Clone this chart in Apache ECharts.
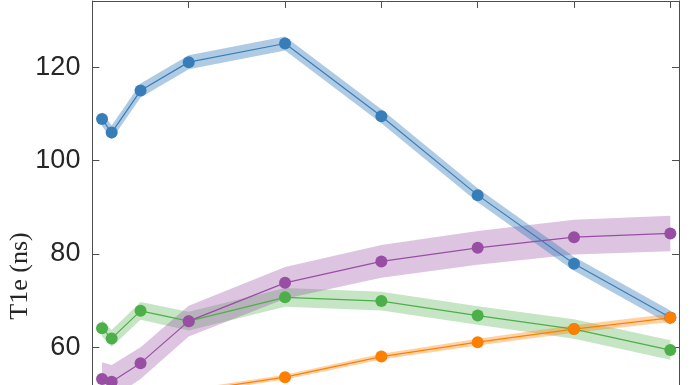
<!DOCTYPE html>
<html><head><meta charset="utf-8">
<style>html,body{margin:0;padding:0;background:#fff}#c{width:696px;height:385px}</style>
<script src="https://cdn.jsdelivr.net/npm/echarts@6/dist/echarts.min.js"></script>
</head><body><div id="c"></div>
<script>
const temperatures = [10, 20, 50, 100, 200, 300, 400, 500, 600];
const blueT1e   = [108.9, 106.0, 115.0, 121.1, 125.1, 109.5, 92.6, 77.9, 66.4];
const blueErr   = [1.5, 1.5, 1.5, 1.5, 1.5, 1.5, 1.5, 1.5, 1.5];
const greenT1e  = [64.1, 61.9, 67.8, 65.6, 70.7, 69.9, 66.8, 63.9, 59.4];
const greenErr  = [1.8, 1.8, 1.9, 2.0, 2.0, 2.0, 2.0, 2.1, 2.1];
const purpleT1e = [53.2, 52.6, 56.6, 65.6, 73.8, 78.4, 81.3, 83.6, 84.4];
const purpleErr = [3.6, 3.6, 3.4, 3.3, 3.4, 3.5, 3.6, 3.7, 3.8];
const orangeT1e = [44.0, 45.5, 48.0, 50.5, 53.6, 58.0, 61.1, 63.9, 66.3];
const orangeErr = [0.5, 0.5, 0.5, 0.5, 0.5, 0.6, 0.7, 0.8, 0.9];
const yTickLabels = [60, 80, 100, 120];
const yAxisTitle = 'T1e (ns)';

const AX = '#4d4d4d';
const chart = echarts.init(document.getElementById('c'), null, {renderer: 'canvas'});

function band(vals, errs, fill) {
  return {
    type: 'custom', xAxisIndex: 0, yAxisIndex: 0, z: 1, silent: true, clip: false,
    animation: false,
    data: temperatures.map((x, i) => [x, vals[i]]),
    encode: {x: 0, y: 1},
    renderItem: function (params, api) {
      if (params.dataIndex !== 0) return null;
      const up = temperatures.map((x, i) => api.coord([x, vals[i] + errs[i]]));
      const lo = temperatures.map((x, i) => api.coord([x, vals[i] - errs[i]])).reverse();
      return {type: 'polygon', shape: {points: up.concat(lo)}, style: {fill: fill, stroke: null}};
    }
  };
}
function line(vals, color) {
  return {
    type: 'line', xAxisIndex: 0, yAxisIndex: 0, z: 3, silent: true, animation: false,
    data: temperatures.map((x, i) => [x, vals[i]]),
    symbol: 'circle', symbolSize: 12, showSymbol: true,
    lineStyle: {color: color, width: 1.2},
    itemStyle: {color: color, borderWidth: 0}
  };
}
function xAx(pos) {
  return {
    type: 'value', position: pos, min: 0, max: 609, interval: 100,
    axisLine: {show: true, onZero: false, lineStyle: {color: AX, width: 1}},
    axisTick: {show: true, inside: true, length: 7, lineStyle: {color: AX, width: 1}},
    axisLabel: {show: false}, splitLine: {show: false}
  };
}
function yAx(pos, labels) {
  return {
    type: 'value', position: pos, min: 40, max: 134.2, interval: 20,
    axisLine: {show: true, onZero: false, lineStyle: {color: AX, width: 1}},
    axisTick: {show: true, inside: true, length: 7, lineStyle: {color: AX, width: 1}},
    axisLabel: {
      show: labels, margin: 12, fontSize: 27, fontFamily: '"Liberation Sans", Arial, sans-serif',
      color: '#262626', showMaxLabel: false,
      formatter: v => yTickLabels.includes(v) ? String(v) : ''
    },
    splitLine: {show: false}
  };
}

chart.setOption({
  animation: false,
  backgroundColor: '#fff',
  grid: {left: 92.4, top: 1, width: 586.6, height: 439.6, containLabel: false, outerBoundsMode: 'none'},
  xAxis: [xAx('bottom'), xAx('top')],
  yAxis: [yAx('left', true), yAx('right', false)],
  graphic: [{
    type: 'text', x: 20, y: 276, rotation: Math.PI / 2, silent: true,
    style: {
      text: yAxisTitle, font: '26px "Liberation Serif", "Times New Roman", serif',
      fill: '#262626', textAlign: 'center', textVerticalAlign: 'middle', align: 'center', verticalAlign: 'middle'
    }
  }],
  series: [
    band(greenT1e, greenErr, 'rgba(77,175,74,0.32)'),
    band(purpleT1e, purpleErr, 'rgba(152,78,163,0.33)'),
    band(blueT1e, blueErr, 'rgba(55,126,184,0.40)'),
    band(orangeT1e, orangeErr, 'rgba(255,127,0,0.35)'),
    line(greenT1e, '#4daf4a'),
    line(purpleT1e, '#984ea3'),
    line(blueT1e, '#377eb8'),
    line(orangeT1e, '#ff7f00')
  ]
});
</script>
</body></html>
